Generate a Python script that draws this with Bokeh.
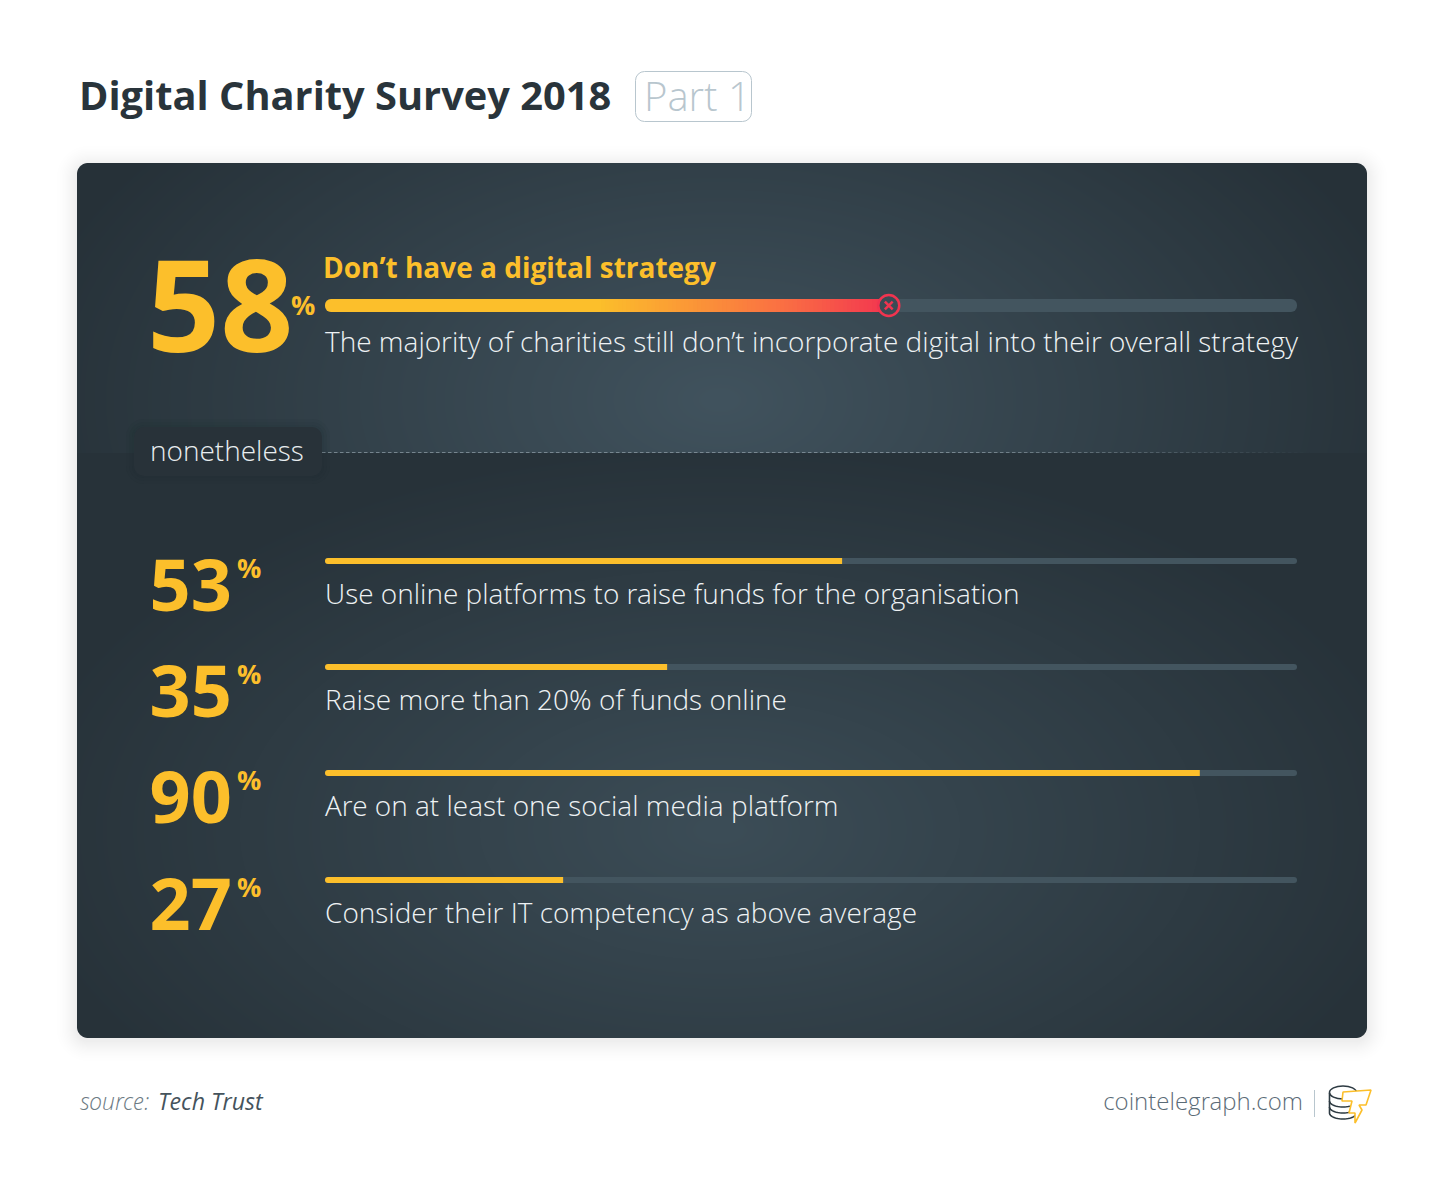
import numpy as np
from bokeh.plotting import figure
from bokeh.models import Range1d
from bokeh.core.properties import value
from bokeh.embed import file_html
from bokeh.resources import INLINE

# ---- chart data ----
title_text = "Digital Charity Survey 2018"
part_text = "Part 1"
main_value = 58
main_heading = "Don\u2019t have a digital strategy"
main_caption = "The majority of charities still don\u2019t incorporate digital into their overall strategy"
separator_text = "nonetheless"
item_values = [53, 35, 90, 27]
item_bar_lengths = [53.2, 35.2, 90, 24.5]   # lengths as drawn in the picture
item_captions = [
    "Use online platforms to raise funds for the organisation",
    "Raise more than 20% of funds online",
    "Are on at least one social media platform",
    "Consider their IT competency as above average",
]
source_label = "source:"
source_name = "Tech Trust"
site_name = "cointelegraph.com"

YELLOW = "#fcbf2b"
TRACK = "#43555f"
LIGHT = "Open Sans Light"
W, H = 1434, 1185

p = figure(width=W, height=H, x_range=Range1d(.5, W + .5), y_range=Range1d(H + .5, .5),
           output_backend="svg", toolbar_location=None, min_border=0,
           background_fill_color="white", border_fill_color="white")
p.axis.visible = False
p.grid.visible = False
p.outline_line_color = None

# ---- card background ----
cx0, cx1, cy0, cy1 = 77, 1367, 163, 1038
m = 30
gx, gy = np.meshgrid(np.arange(cx0 - m, cx1 + m) + .5, np.arange(cy0 - m, cy1 + m) + .5)


def sdf(gx, gy, x0, x1, y0, y1, r):
    qx = np.abs(gx - (x0 + x1) / 2) - (x1 - x0) / 2 + r
    qy = np.abs(gy - (y0 + y1) / 2) - (y1 - y0) / 2 + r
    return np.hypot(np.maximum(qx, 0), np.maximum(qy, 0)) + np.minimum(np.maximum(qx, qy), 0) - r


def radial(gx, gy, c, rx, ry, inner, outer):
    t = np.clip(np.hypot((gx - c[0]) / rx, (gy - c[1]) / ry), 0, 1)[..., None]
    return np.array(inner) * (1 - t) + np.array(outer) * t


outer = (38, 49, 56)
top = radial(gx, gy, (720, 400), 720, 420, (65, 83, 94), outer)
bot = radial(gx, gy, (720, 830), 720, 390, (60, 77, 87), (39, 50, 57))
rgb = np.where((gy < 453)[..., None], top, bot)
d = sdf(gx, gy, cx0, cx1, cy0, cy1, 11)
card_a = np.clip(.5 - d, 0, 1)
shadow_a = .07 * np.clip(1 - sdf(gx, gy, cx0, cx1, cy0 + 3, cy1 + 3, 11) / 26, 0, 1) ** 2
alpha = card_a + (1 - card_a) * shadow_a
col = (rgb * card_a[..., None]) / np.maximum(alpha[..., None], 1e-6)
img = np.zeros(gx.shape, dtype=np.uint32)
view = img.view(np.uint8).reshape(gx.shape + (4,))
view[..., :3] = np.clip(col, 0, 255).astype(np.uint8)
view[..., 3] = (alpha * 255).astype(np.uint8)
p.image_rgba(image=[img], x=cx0 - m, y=cy0 - m, dw=cx1 - cx0 + 2 * m, dh=cy1 - cy0 + 2 * m)

# ---- header ----
p.quad(left=[635.5], right=[751.5], top=[71.5], bottom=[121.5], border_radius=9,
       fill_color="white", line_color="#b8c6ce", line_width=1)


def label(x, y, t, size, color, font="Open Sans", style="normal", align="left"):
    p.text(x=[x], y=[y - 0.33 * size - 3], text=[t], text_font=value(font), text_font_size=f"{size}px",
           text_font_style=style, text_color=color, text_align=align, text_baseline="alphabetic")


label(79, 110.5, title_text, 39.8, "#29343b", style="bold")
label(644, 112, part_text, 40, "#b8c6ce", font=LIGHT)

# ---- bars ----
bx0, bw = 325, 972


def bx(v):
    return float(bx0 + bw * v / 100)


# main bar
p.quad(left=[bx(0)], right=[bx(100)], top=[299], bottom=[312], border_radius=6, fill_color=TRACK, line_color=None)
p.quad(left=[bx(0)], right=[bx(28) + 2], top=[299], bottom=[312],
       border_radius=(6, 0, 0, 6), fill_color=YELLOW, line_color=None)
c0, c1, c2 = np.array([252, 191, 43]), np.array([250, 110, 68]), np.array([243, 54, 80])
edges = np.linspace(bx(28), bx(main_value), 71)
for i, f in enumerate(np.linspace(0, 1, 70)):
    c = c0 + (c1 - c0) * f / .65 if f < .65 else c1 + (c2 - c1) * (f - .65) / .35
    p.quad(left=[edges[i]], right=[min(edges[i + 1] + 1, edges[-1])], top=[299], bottom=[312],
           fill_color="#%02x%02x%02x" % tuple(int(v) for v in c), line_color=None)
p.scatter(x=[bx(main_value)], y=[305.5], size=21, marker="circle", fill_color="#3b4b55",
          line_color="#f0344f", line_width=2.5)
p.scatter(x=[bx(main_value)], y=[305.5], size=11, marker="x", line_color="#f0344f", line_width=2.5)

label(147, 351, str(main_value), 128, YELLOW, style="bold")
label(291, 316, "%", 27, YELLOW, style="bold")
label(323, 279, main_heading, 28, YELLOW, style="bold")
label(325, 353, main_caption, 28, "#eef2f4", font=LIGHT)

# separator
for x in np.arange(322, 1310, 6):
    a = max(0, min(.75, (1310 - x) / 450))
    p.segment(x0=[x], x1=[x + 3.5], y0=[452.5], y1=[452.5], line_color="#8c9ba4", line_alpha=a, line_width=1)
for g in (8, 5, 2):
    p.quad(left=[134 - g], right=[322 + g], top=[427 - g], bottom=[476 + g], border_radius=10 + g,
           fill_color="#1a2227", fill_alpha=.05, line_color=None)
p.quad(left=[134], right=[322], top=[427], bottom=[476], border_radius=10, fill_color="#283239", line_color=None)
label(150, 462, separator_text, 28, "#e8edf0", font=LIGHT)

# items
ys = [561, 667, 773, 880]
for v, ln, cap, yc in zip(item_values, item_bar_lengths, item_captions, ys):
    p.quad(left=[bx(0)], right=[bx(100)], top=[yc - 3], bottom=[yc + 3], border_radius=3, fill_color=TRACK, line_color=None)
    p.quad(left=[bx(0)], right=[bx(ln)], top=[yc - 3], bottom=[yc + 3], border_radius=(3, 0, 0, 3), fill_color=YELLOW, line_color=None)
    label(149.5, yc + 51, str(v), 72, YELLOW, style="bold")
    label(237, yc + 18, "%", 27, YELLOW, style="bold")
    label(325, yc + 44, cap, 28, "#eef2f4", font=LIGHT)

# ---- footer ----
label(80, 1112, source_label, 23.2, "#6d7b84", font=LIGHT, style="italic")
label(158, 1112, source_name, 23.2, "#45535c", font="Open Sans", style="italic")
label(1303, 1111, site_name, 24, "#5b6b77", font=LIGHT, align="right")
p.segment(x0=[1314.5], x1=[1314.5], y0=[1090], y1=[1117], line_color="#b8c6ce", line_width=1)

# logo: coin stack and bolt
LOGO = "#2d3a42"
for yy in (1098, 1104, 1110):
    xs = 1343 + 13.5 * np.cos(np.linspace(0, np.pi, 25))
    ys_ = yy + 3 + 6 * np.sin(np.linspace(0, np.pi, 25))
    p.line(x=xs, y=ys_, line_color=LOGO, line_width=1.6)
p.ellipse(x=[1343], y=[1092.5], width=[27], height=[13], fill_color="white", line_color=LOGO, line_width=1.6)
p.segment(x0=[1329.5, 1356.5], x1=[1329.5, 1356.5], y0=[1093, 1093], y1=[1113, 1113], line_color=LOGO, line_width=1.6)
p.patch(x=[1343, 1371, 1366, 1359, 1362, 1355, 1355, 1349, 1352, 1342],
        y=[1092, 1090, 1105, 1105, 1110, 1123, 1113, 1113, 1101, 1101],
        fill_color="white", line_color="#fcbf2b", line_width=1.6)

open("out.html", "w").write(file_html(p, INLINE))
